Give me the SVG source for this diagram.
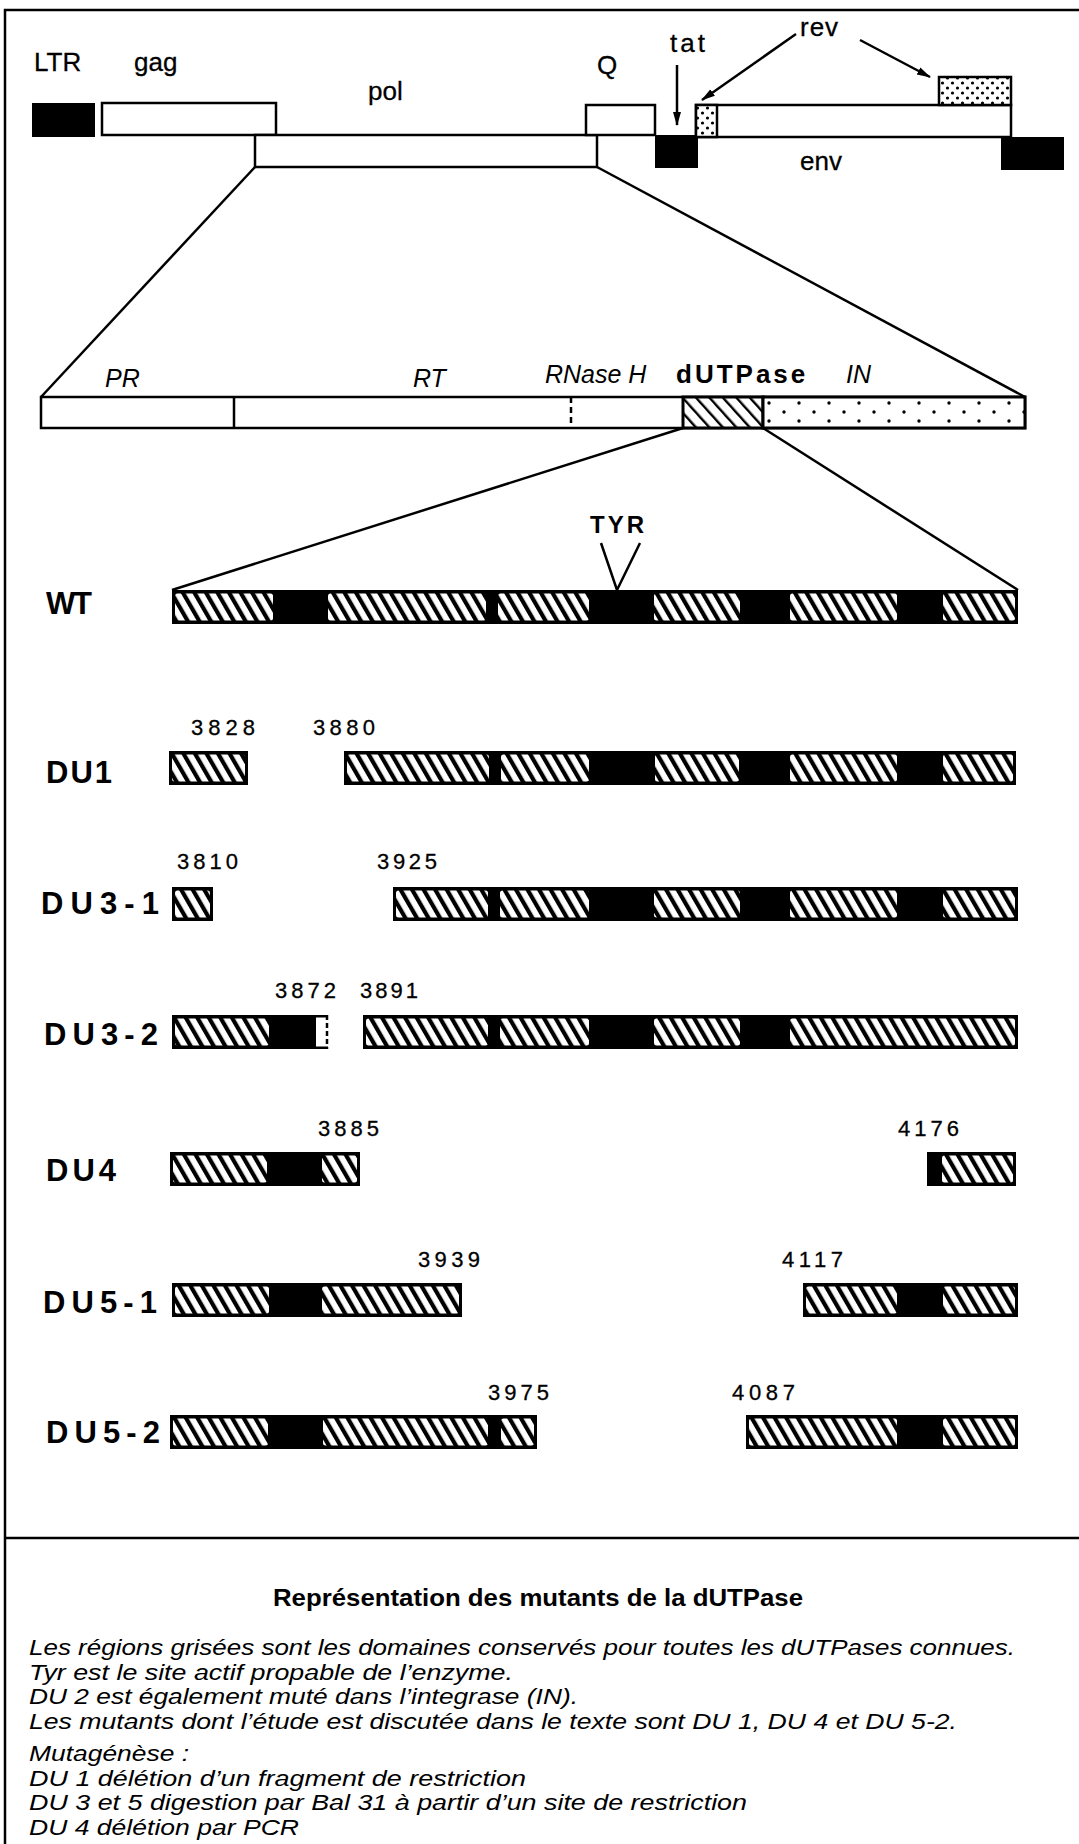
<svg xmlns="http://www.w3.org/2000/svg" width="1079" height="1844" viewBox="0 0 1079 1844">
<style>
.box{fill:#fff;stroke:#000;stroke-width:2.5}
.blk{fill:#000}
.ln{stroke:#000;stroke-width:2.5;fill:none}
.t{font-family:"Liberation Sans",Arial,Helvetica,sans-serif;fill:#000}
.gene{font-size:26px;stroke:#000;stroke-width:0.3}
.dom{font-size:25px;font-style:italic}
.mut{font-size:31px;font-weight:bold}
.num{font-size:22px;stroke:#000;stroke-width:0.3}
.hz{fill:url(#hatch)}
.note{font-size:22px;font-style:italic}
</style>
<defs>
  <!-- diagonal stripes used for the dUTPase segments -->
  <pattern id="hatch" width="10" height="10" patternUnits="userSpaceOnUse" patternTransform="rotate(-30)">
    <rect width="10" height="10" fill="#fff"/>
    <rect width="4.2" height="10" fill="#000"/>
  </pattern>
  <!-- thin stripes for the dUTPase domain in the pol map -->
  <pattern id="hatchThin" width="10" height="10" patternUnits="userSpaceOnUse" patternTransform="rotate(-42)">
    <rect width="10" height="10" fill="#fff"/>
    <rect width="2.4" height="10" fill="#000"/>
  </pattern>
  <!-- sparse stipple for the integrase -->
  <pattern id="dotsSparse" width="30" height="18" patternUnits="userSpaceOnUse" x="763" y="399">
    <rect width="30" height="18" fill="#fff"/>
    <circle cx="6" cy="4" r="1.7" fill="#000"/>
    <circle cx="21" cy="13" r="1.7" fill="#000"/>
  </pattern>
  <!-- dense stipple for rev exons -->
  <pattern id="dotsDense" width="10" height="10" patternUnits="userSpaceOnUse">
    <rect width="10" height="10" fill="#fff"/>
    <circle cx="2.5" cy="3" r="1.6" fill="#000"/>
    <circle cx="7.5" cy="8" r="1.6" fill="#000"/>
  </pattern>
  <marker id="arrow" viewBox="0 0 14 10" refX="13" refY="5" markerWidth="14" markerHeight="10" orient="auto" markerUnits="userSpaceOnUse">
    <path d="M0,1 L14,5 L0,9 z" fill="#000"/>
  </marker>
</defs>

<rect width="1079" height="1844" fill="#fff"/>

<!-- outer frame and caption divider -->
<g id="frame">
  <path class="ln" d="M5,1844 V10 H1079"/>
  <line class="ln" x1="5" y1="1538" x2="1079" y2="1538"/>
</g>

<!-- genome map -->
<g id="ltr-left">
  <rect class="blk" x="32" y="103" width="63" height="34"/>
  <text class="t gene" x="34" y="71">LTR</text>
</g>
<g id="gag">
  <rect class="box" x="102" y="103" width="174" height="32"/>
  <text class="t gene" x="134" y="71">gag</text>
</g>
<g id="pol">
  <rect class="box" x="255" y="135" width="342" height="32"/>
  <text class="t gene" x="368" y="100">pol</text>
</g>
<g id="q">
  <rect class="box" x="586" y="105" width="69" height="30"/>
  <text class="t gene" x="597" y="74">Q</text>
</g>
<g id="tat">
  <rect class="blk" x="655" y="135" width="43" height="33"/>
  <text class="t gene" x="670" y="52" letter-spacing="3">tat</text>
</g>
<g id="env">
  <rect class="box" x="696" y="105" width="315" height="32"/>
  <text class="t gene" x="800" y="170">env</text>
</g>
<g id="rev">
  <rect x="696" y="105" width="21" height="32" fill="url(#dotsDense)" stroke="#000" stroke-width="2.5"/>
  <rect x="939" y="77" width="72" height="28" fill="url(#dotsDense)" stroke="#000" stroke-width="2.5"/>
  <text class="t gene" x="800" y="36" letter-spacing="1">rev</text>
</g>
<g id="ltr-right">
  <rect class="blk" x="1001" y="137" width="63" height="33"/>
</g>

<!-- pol domain map -->
<g id="pol-domains">
  <rect class="box" x="41" y="397" width="984" height="31" stroke-width="3"/>
  <line class="ln" x1="234" y1="397" x2="234" y2="428"/>
  <line class="ln" x1="571" y1="397" x2="571" y2="428" stroke-dasharray="6,4"/>
  <rect x="683" y="397" width="80" height="31" fill="url(#hatchThin)" stroke="#000" stroke-width="3"/>
  <rect x="763" y="397" width="262" height="31" fill="url(#dotsSparse)" stroke="#000" stroke-width="3"/>
  <text class="t dom" x="105" y="387">PR</text>
  <text class="t dom" x="413" y="387">RT</text>
  <text class="t dom" x="545" y="383">RNase H</text>
  <text class="t" x="676" y="383" font-size="26" font-weight="bold" letter-spacing="3">dUTPase</text>
  <text class="t dom" x="846" y="383">IN</text>
</g>

<!-- wild type and deletion mutants -->
<g id="wt">
  <text class="t mut" x="46" y="614" textLength="46">WT</text>
  <rect class="blk" x="172" y="590" width="846" height="34"/>
  <rect class="hz" x="175" y="593.5" width="98" height="27" rx="2.5"/>
  <rect class="hz" x="328" y="593.5" width="158" height="27" rx="2.5"/>
  <rect class="hz" x="498" y="593.5" width="91" height="27" rx="2.5"/>
  <rect class="hz" x="654" y="593.5" width="86" height="27" rx="2.5"/>
  <rect class="hz" x="790" y="593.5" width="107" height="27" rx="2.5"/>
  <rect class="hz" x="943" y="593.5" width="72" height="27" rx="2.5"/>
  <text class="t" x="590" y="533" font-size="24" font-weight="bold" letter-spacing="3">TYR</text>
</g>

<g id="du1">
  <text class="t mut" x="46" y="783" textLength="66">DU1</text>
  <text class="t num" x="191" y="735" textLength="64">3828</text>
  <text class="t num" x="313" y="735" textLength="62">3880</text>
  <rect class="blk" x="169" y="751" width="79" height="34"/>
  <rect class="hz" x="172" y="754.5" width="73" height="27" rx="2.5"/>
  <rect class="blk" x="344" y="751" width="672" height="34"/>
  <rect class="hz" x="347" y="754.5" width="142" height="27" rx="2.5"/>
  <rect class="hz" x="501" y="754.5" width="88" height="27" rx="2.5"/>
  <rect class="hz" x="655" y="754.5" width="84" height="27" rx="2.5"/>
  <rect class="hz" x="790" y="754.5" width="107" height="27" rx="2.5"/>
  <rect class="hz" x="943" y="754.5" width="70" height="27" rx="2.5"/>
</g>

<g id="du3-1">
  <text class="t mut" x="41" y="914" textLength="118">DU3-1</text>
  <text class="t num" x="177" y="869" textLength="61">3810</text>
  <text class="t num" x="377" y="869" textLength="60">3925</text>
  <rect class="blk" x="172" y="887" width="41" height="34"/>
  <rect class="hz" x="175" y="890.5" width="35" height="27" rx="2.5"/>
  <rect class="blk" x="393" y="887" width="625" height="34"/>
  <rect class="hz" x="396" y="890.5" width="92" height="27" rx="2.5"/>
  <rect class="hz" x="500" y="890.5" width="89" height="27" rx="2.5"/>
  <rect class="hz" x="654" y="890.5" width="86" height="27" rx="2.5"/>
  <rect class="hz" x="790" y="890.5" width="107" height="27" rx="2.5"/>
  <rect class="hz" x="943" y="890.5" width="72" height="27" rx="2.5"/>
</g>

<g id="du3-2">
  <text class="t mut" x="44" y="1045" textLength="114">DU3-2</text>
  <text class="t num" x="275" y="998" textLength="61">3872</text>
  <text class="t num" x="360" y="998" textLength="58">3891</text>
  <rect class="blk" x="172" y="1015" width="144" height="34"/>
  <rect class="hz" x="175" y="1018.5" width="94" height="27" rx="2.5"/>
  <line class="ln" x1="316" y1="1016.25" x2="328" y2="1016.25"/>
  <line class="ln" x1="316" y1="1047.75" x2="328" y2="1047.75"/>
  <line class="ln" x1="327" y1="1015" x2="327" y2="1049" stroke-dasharray="5,3"/>
  <rect class="blk" x="363" y="1015" width="655" height="34"/>
  <rect class="hz" x="366" y="1018.5" width="122" height="27" rx="2.5"/>
  <rect class="hz" x="500" y="1018.5" width="89" height="27" rx="2.5"/>
  <rect class="hz" x="654" y="1018.5" width="86" height="27" rx="2.5"/>
  <rect class="hz" x="790" y="1018.5" width="225" height="27" rx="2.5"/>
</g>

<g id="du4">
  <text class="t mut" x="46" y="1181" textLength="70">DU4</text>
  <text class="t num" x="318" y="1136" textLength="61">3885</text>
  <text class="t num" x="898" y="1136" textLength="61">4176</text>
  <rect class="blk" x="170" y="1152" width="190" height="34"/>
  <rect class="hz" x="173" y="1155.5" width="94" height="27" rx="2.5"/>
  <rect class="hz" x="322" y="1155.5" width="35" height="27" rx="2.5"/>
  <rect class="blk" x="927" y="1152" width="89" height="34"/>
  <rect class="hz" x="942" y="1155.5" width="71" height="27" rx="2.5"/>
</g>

<g id="du5-1">
  <text class="t mut" x="43" y="1313" textLength="114">DU5-1</text>
  <text class="t num" x="418" y="1267" textLength="62">3939</text>
  <text class="t num" x="782" y="1267" textLength="61">4117</text>
  <rect class="blk" x="172" y="1283" width="290" height="34"/>
  <rect class="hz" x="175" y="1286.5" width="94" height="27" rx="2.5"/>
  <rect class="hz" x="322" y="1286.5" width="137" height="27" rx="2.5"/>
  <rect class="blk" x="803" y="1283" width="215" height="34"/>
  <rect class="hz" x="806" y="1286.5" width="91" height="27" rx="2.5"/>
  <rect class="hz" x="943" y="1286.5" width="72" height="27" rx="2.5"/>
</g>

<g id="du5-2">
  <text class="t mut" x="46" y="1443" textLength="114">DU5-2</text>
  <text class="t num" x="488" y="1400" textLength="61">3975</text>
  <text class="t num" x="732" y="1400" textLength="63">4087</text>
  <rect class="blk" x="170" y="1415" width="367" height="34"/>
  <rect class="hz" x="173" y="1418.5" width="95" height="27" rx="2.5"/>
  <rect class="hz" x="323" y="1418.5" width="165" height="27" rx="2.5"/>
  <rect class="hz" x="501" y="1418.5" width="33" height="27" rx="2.5"/>
  <rect class="blk" x="746" y="1415" width="272" height="34"/>
  <rect class="hz" x="749" y="1418.5" width="148" height="27" rx="2.5"/>
  <rect class="hz" x="943" y="1418.5" width="72" height="27" rx="2.5"/>
</g>

<!-- zoom lines, pointer arrows and the active-site tick -->
<g id="connectors">
  <line class="ln" x1="255" y1="167" x2="41" y2="397"/>
  <line class="ln" x1="597" y1="167" x2="1025" y2="397"/>
  <line class="ln" x1="683" y1="428" x2="172" y2="590"/>
  <line class="ln" x1="763" y1="428" x2="1018" y2="590"/>
  <line class="ln" x1="677" y1="65" x2="677" y2="125" marker-end="url(#arrow)"/>
  <line class="ln" x1="796" y1="34" x2="702" y2="100" marker-end="url(#arrow)"/>
  <line class="ln" x1="860" y1="40" x2="930" y2="77" marker-end="url(#arrow)"/>
  <polyline class="ln" points="601,543 617,590 640,543"/>
</g>

<!-- caption -->
<g id="legend">
  <text class="t" x="538" y="1606" font-size="24" font-weight="bold" text-anchor="middle" textLength="530" lengthAdjust="spacingAndGlyphs">Représentation des mutants de la dUTPase</text>
  <text class="t note" x="29" y="1655" textLength="986" lengthAdjust="spacingAndGlyphs">Les régions grisées sont les domaines conservés pour toutes les dUTPases connues.</text>
  <text class="t note" x="29" y="1679.6" textLength="484" lengthAdjust="spacingAndGlyphs">Tyr est le site actif propable de l’enzyme.</text>
  <text class="t note" x="29" y="1704.2" textLength="549" lengthAdjust="spacingAndGlyphs">DU 2 est également muté dans l’integrase (IN).</text>
  <text class="t note" x="29" y="1728.8" textLength="928" lengthAdjust="spacingAndGlyphs">Les mutants dont l’étude est discutée dans le texte sont DU 1, DU 4 et DU 5-2.</text>
  <text class="t note" x="29" y="1761" textLength="160" lengthAdjust="spacingAndGlyphs">Mutagénèse :</text>
  <text class="t note" x="29" y="1785.6" textLength="497" lengthAdjust="spacingAndGlyphs">DU 1 délétion d’un fragment de restriction</text>
  <text class="t note" x="29" y="1810.2" textLength="718" lengthAdjust="spacingAndGlyphs">DU 3 et 5 digestion par Bal 31 à partir d’un site de restriction</text>
  <text class="t note" x="29" y="1834.8" textLength="270" lengthAdjust="spacingAndGlyphs">DU 4 délétion par PCR</text>
</g>
</svg>
